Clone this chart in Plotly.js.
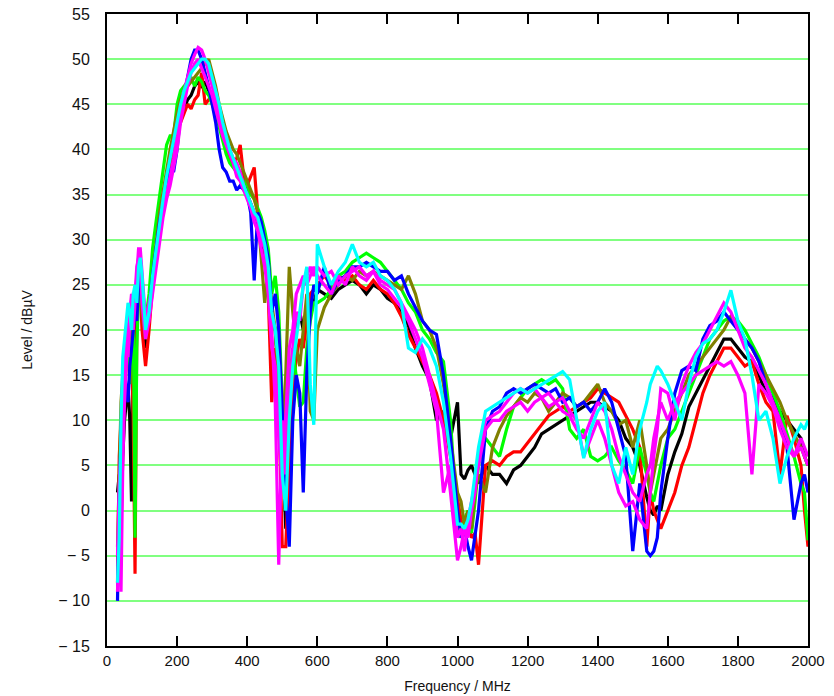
<!DOCTYPE html>
<html>
<head>
<meta charset="utf-8">
<script src="https://cdn.plot.ly/plotly-3.0.1.min.js"></script>
<style>html,body{margin:0;padding:0;background:#fff;}#chart{width:834px;height:696px;}</style>
</head>
<body>
<div id="chart"></div>
<script>
const freq = [30,35,40,45,50,55,60,65,70,75,80,85,90,95,100,
110,120,130,140,150,160,170,180,190,200,210,220,230,240,250,260,270,280,290,300,310,320,330,340,350,360,370,380,390,400,410,420,430,440,450,460,470,480,490,500,510,520,530,540,550,560,570,580,590,600,
620,640,660,680,700,720,740,760,780,800,820,840,860,880,900,920,940,960,980,1000,
1010,1020,1030,1040,1050,1060,
1080,1100,1120,1140,1160,1180,1200,1220,1240,1260,1280,1300,1320,1340,1360,1380,1400,1420,1440,1460,1480,1500,1520,1540,
1550,1560,1570,1580,
1600,1620,1640,1660,1680,1700,1720,1740,1760,1780,1800,1820,1840,1860,1880,1900,1920,1940,1960,1980,
1990,2000];

const black = [2,4,-2,6,10,12,14,10,1,16,20,22,24,26,22,
18,21,26,29,32,34.5,36,38.5,40,42,44,44.5,45.5,46,47,47.5,47,47.5,46.5,46,45,43.5,42,40.5,39.5,39,38,37.5,37,35,34,33,32,30,28,26,22,20,14,8,-2,8,16,20,22,20,22.5,23.5,23,24.5,
24,23.5,24.5,25,25.5,25,24,25,24.5,23.5,23,22,20.5,18,16,14.5,10,11,8,12,
4,3.5,4.5,5,4,3,
5,4,4,3,4.5,5,6,7,8.5,9,9.5,10,10.5,11,11.5,12,12,11.5,11,10,8,7,5,1.5,
0,-0.5,0.5,0,
4,6.5,8.5,11.5,13,14.5,16,17.5,19,19,18,17,16.5,15,13,12.5,11,10,9,8,
6,5];

const red = [-8,6,10,12,14,16,20,21,18,10,-7,20,26,24,20,
16,20,25,28,31,34,36.5,38,40,42,43,44,45,44.5,45.5,46,48.5,45,45.5,46,45,43,42,41,39,38.5,39,40.5,37,36,37,38,33,31,29,24,12,18,12,-4,-4,5,13,17,19,18,21,24,24.5,25,
26,25,26,25.5,26,25,24.5,25.5,24.5,24,23,21.5,19.5,18,16.5,15,13,10,6,1,
-1,-2,-1.5,-3,-2.5,-6,
5,5.5,5,6,6.5,6.5,7.5,8.5,9.5,10.5,11,11.5,11,11.5,12,12.5,13.5,13,12.5,12,10.5,9,7,-4,
2,0,-1,-2,
0,2,5,7,10,13,15,16.5,18,18,17,16,16.5,14,12,11,4,10.5,8,5,
0,-4];

const blue = [-10,2,8,14,16,13,12,16,18,20,22,21,25,27,24,
20,22,26,29,32,34,36,38,37.5,40,44,46,48,50,51,51,50,48.5,47,45,43,40,38,37.5,36.5,36.5,35.5,36,35.5,35,33,25.5,33,32,30,28,22,24,20,10,2,-4,10,15,13,2,15,22,25,24,
27,24,25.5,26,27,27,27.5,27,26.5,26.5,25.5,26,24,22.5,21,20,19.5,15,8,0,
-3,-2,-4,-5.5,-3,0,
9,11,11.5,13,13.5,13,13.5,14,13.5,13,13.5,12,12.5,11.5,12,11,12,13.5,12,9,6,-4.5,3,-4.5,
-5,-4.5,-3,2,
8,13,15.5,16,15.5,19,20.5,21,22,21,20,19,18,16.5,14,12,10,7,-1,3,
4,2];

const green = [-6,-8,4,12,15,17,19,14,20,22,-3,18,24,27,25,
21,24,29,32,35,38,40.5,41.5,41.5,45,46.5,47,47.5,48,47,48,47.5,46.5,46,45,44,42.5,41,39.5,38.5,38,37.5,37,36.5,36,35,34.5,33.5,32.5,31,29,24,26,22,12,5,14,18,15,11.5,12,18,21,23,23,
23.5,24.5,26,26.5,27.5,28,28.5,28,27.5,26.5,25.5,24.5,23,22,20,19,17.5,16.5,10,-2,
-3,-1,0,-2.5,1,5,
8,7,6,9,11.5,12.5,13.5,14,14.5,14,14.5,13.5,9,8,9,6,5.5,6,7,5.5,4.5,3,7,4,
2,1,3,5,
8,9,11,13,15,17,19,20,21,21.5,21,20,18.5,17,15,13,11,8.5,6,3,
2,-3.3];

const magenta = [-9,0,-9,5,12,17,20,22,24,20,23,26,29,29,26,
21,23,25,28,31,33,35,37,39,41.5,44.5,46.5,48,49.5,50.5,51.3,51,50,48.5,47,45.5,44,42.5,41,40,39,38.5,37.5,36,35,34,33,32,30,29,26,20,12,-6,10,4,12,18,22,21,25,26,27,26,27,
26,26.5,25,26,26.5,27,26,26.5,25.5,25,24.5,23,21.5,20,18,15,12,9,2,-5.5,
-4,-2,-3,0,2,6,
10,10.5,11,12,13,13.5,13,13.5,12.5,13,12,12.5,11,10,6,8,10,8,5,2,0.5,1,-1,-2,
2,6,9,13.5,
13,10,14,16,17.5,18.5,20,21.5,23,22,20,18,17,15.5,14,12,10,8,6,7,
6,5];

const cyan = [-8,-3,10,17,19,21,23,22,20,24,25,23,27,28,26,
20,22,26,29,32,34.5,37,39,41,43,45,46.5,47.5,48.5,49,49.5,50,50,49.5,48,46.5,45,43,41.5,40,39,38,37,36,35,34,33,32.5,31,29.5,27,22,20,16,4,0,10,16,19,22,25,27,14,9.5,29.5,
27,25,26.5,27.5,29.5,27.5,27,27.5,26,25.5,24.5,23,18,17.5,19,18,16,12,6,-1.5,
-1.5,-2,-1,1,4,7,
11,11.5,12,12.5,13,13.5,13,13.5,14,14.5,15,15.4,14.5,10,5.8,9,11,12,5,3,7,4,9,12,
14,15,16,15.5,
14,12,10,14,17,18.5,19,20,22,24.4,21,19,15,10,11,8,3,6,8,9.5,
9,10];

const olive = [-4,5,12,15,16,18,20,19,22,21,23,24,25,26,22,
19,22,26,29.5,33,35.5,38,40,42,44,45.5,46.5,47,47.5,48,48.5,49,49.5,50,48.5,47,45,43.5,42,41,40,39.5,38.5,37.5,36.5,35.5,34.5,33,28.5,23,27,23,20,14,8,15,27,22,18,16,20,24,11,10,20,
22.5,24,25,26,25.5,26.5,26,26.5,26,25.5,25,24.5,26,24,21,20,18,14,8,2,
1,-1.5,0,-2,2,4,
2,7,9,10.5,11.5,12.5,12,13,12.5,11,12,13,12.5,11.5,12,13,14,12,11,9.5,10,7,10,5,
2,4,6,8,
9,11,13,15,16,17,18,19,20,21.5,20.5,19,18,16.5,15,13.5,12,10,8.5,7,
6,5];

const magenta2 = [-5,3,7,14,18,20,17,21,22,24,24,27,28,27,23,
19,21,24,27,30,32.5,34.5,36,38,40,43,45,47,48.5,49.5,50,49,48,47,46,44.5,43,41.5,40.5,39.5,38.5,37,36.5,35.5,34.5,33.5,32,31,29,27,24,18,16,8,3,10,18,20,24,25,26,25,26,27,26,
25,24,26,25,27,26,25.5,26.5,25,24.5,23.5,22.5,21,19,17,14,11,2,5,-3,
-2,-4.5,-1,1,3,5,
9,10,10,11,11.5,12,11,12,12.5,11.5,12,11,10.5,9,8,10,12,11,9,6,4,2,1,4,
5,8,10,12,
10,12,13,14,15,15.5,16,16.5,16,16.5,15,13,4,14,13,11.5,9,7,6,8,
7,6];

const xTickVals = [0,200,400,600,800,1000,1200,1400,1600,1800,2000];
const yTickVals = [-15,-10,-5,0,5,10,15,20,25,30,35,40,45,50,55];
const yTickText = ['\u2212 15','\u2212 10','\u2212 5','0','5','10','15','20','25','30','35','40','45','50','55'];

const seriesList = [
  {y: black, color: '#000000'},
  {y: red, color: '#ff0000'},
  {y: green, color: '#00ff00'},
  {y: olive, color: '#808000'},
  {y: blue, color: '#0000ff'},
  {y: magenta2, color: '#ff00ff'},
  {y: magenta, color: '#ff00ff'},
  {y: cyan, color: '#00ffff'}
];

const traces = seriesList.map(s => ({
  x: freq, y: s.y, type: 'scatter', mode: 'lines',
  line: {color: s.color, width: 3.2}, hoverinfo: 'skip'
}));

const font = {family: 'Liberation Sans, Arial, sans-serif', color: '#111'};

const layout = {
  width: 834, height: 696,
  margin: {l: 107, r: 26, t: 14, b: 50},
  paper_bgcolor: '#fff', plot_bgcolor: '#fff',
  showlegend: false,
  font: font,
  xaxis: {
    range: [0, 2000], tickvals: xTickVals,
    ticks: 'inside', ticklen: 10, tickwidth: 2, tickcolor: '#000',
    showline: true, linewidth: 2, linecolor: '#000', mirror: 'ticks',
    showgrid: false, zeroline: false,
    tickfont: {family: font.family, size: 15, color: '#111'},
    title: {text: 'Frequency / MHz', font: {family: font.family, size: 14, color: '#111'}, standoff: 13}
  },
  yaxis: {
    range: [-15, 55], tickvals: yTickVals, ticktext: yTickText,
    ticks: '', showline: true, linewidth: 2, linecolor: '#000', mirror: true,
    showgrid: true, gridcolor: '#80ff80', gridwidth: 2, zeroline: false,
    ticklabelstandoff: 12,
    tickfont: {family: font.family, size: 16, color: '#111'},
    title: {text: 'Level / dB\u00b5V', font: {family: font.family, size: 14, color: '#111'}, standoff: 22}
  }
};

Plotly.newPlot('chart', traces, layout, {displayModeBar: false, staticPlot: true});
</script>
</body>
</html>
